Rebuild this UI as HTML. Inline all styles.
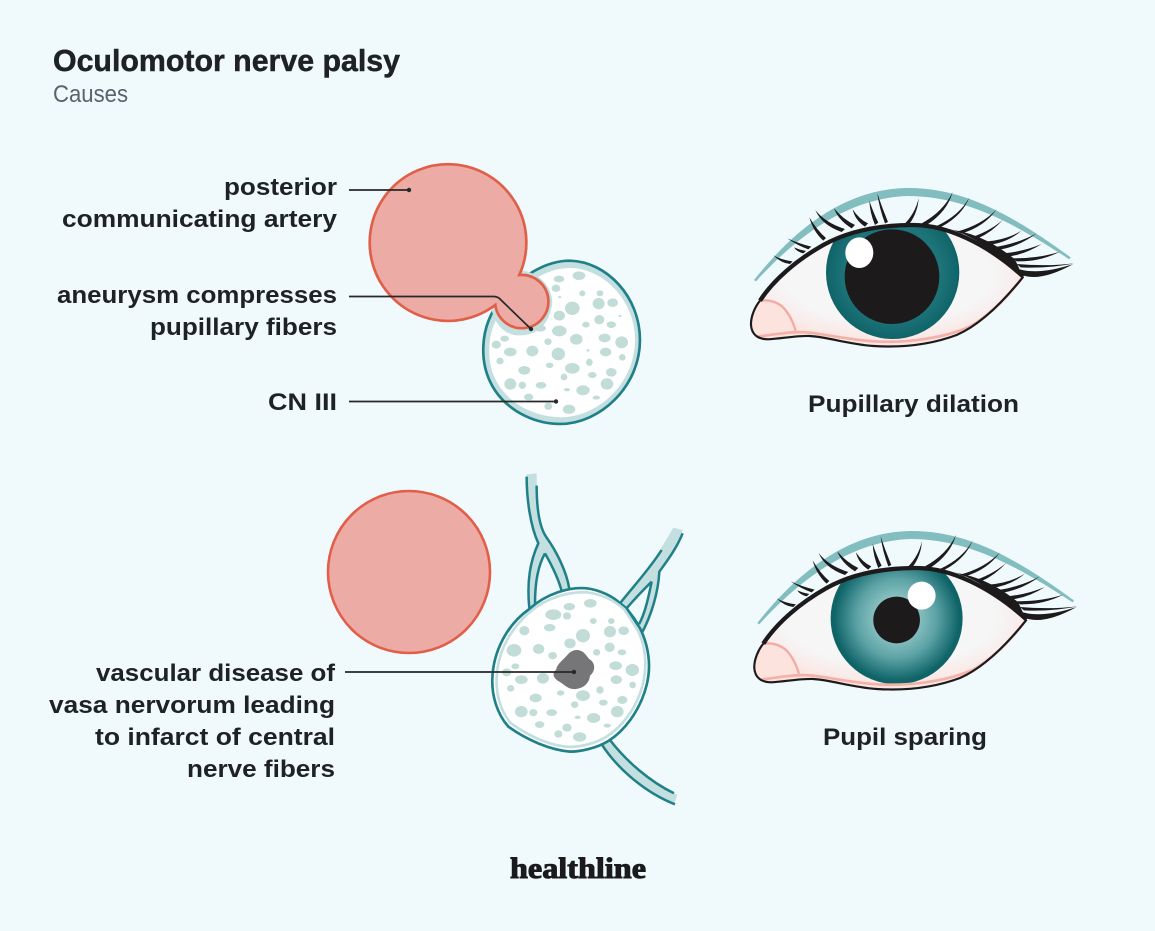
<!DOCTYPE html>
<html><head><meta charset="utf-8"><style>
html,body{margin:0;padding:0;background:#f0f9fc}
svg{display:block}
.l{font:bold 24px "Liberation Sans",sans-serif;fill:#1f2224}
.t{font:bold 31px "Liberation Sans",sans-serif;fill:#1f2224;stroke:#1f2224;stroke-width:.5}
.s{font:24px "Liberation Sans",sans-serif;fill:#59636a}
.h{font:bold 30px "Liberation Serif",serif;fill:#1b1b1d;stroke:#1b1b1d;stroke-width:1}
.ln{fill:none;stroke:#26282a;stroke-width:1.7}
.sp{fill:#c2dcd8}
</style></head><body>
<svg width="1155" height="931" viewBox="0 0 1155 931" xmlns="http://www.w3.org/2000/svg">
<defs>
<clipPath id="ec"><path d="M35,450C60,390 130,320 190,270C280,200 400,165 500,165C640,165 760,230 850,320C800,390 740,450 680,480C600,520 500,530 400,525C330,520 280,500 200,498C150,498 100,510 70,508C40,505 30,480 35,450Z"/></clipPath>
<radialGradient id="ir1"><stop offset="0.72" stop-color="#1d7479"/><stop offset="1" stop-color="#0f6468"/></radialGradient>
<radialGradient id="ir2"><stop offset="0.3" stop-color="#8dc3c4"/><stop offset="0.6" stop-color="#5da3a6"/><stop offset="0.95" stop-color="#0f6468"/></radialGradient>
<radialGradient id="wh" cx="0.5" cy="0.42" r="0.62"><stop offset="0.62" stop-color="#f6f6f7"/><stop offset="1" stop-color="#fddfda"/></radialGradient>
<g id="eyebase">
<path d="M42,330C150,195 300,58 500,54C680,52 830,145 992,262L988,268C830,165 680,78 500,78C320,85 170,200 48,334Z" fill="#82bdc0"/>
<path d="M35,450C60,390 130,320 190,270C280,200 400,165 500,165C640,165 760,230 850,320C800,390 740,450 680,480C600,520 500,530 400,525C330,520 280,500 200,498C150,498 100,510 70,508C40,505 30,480 35,450Z" fill="url(#wh)"/>
<path d="M60,392C100,390 140,410 165,482C130,495 90,506 70,506C40,505 30,480 35,450C38,430 48,410 60,392Z" fill="#fde3de"/>
</g>
<g id="eyetop" >
<path d="M60,392C85,388 120,395 140,425C155,445 162,465 167,482" fill="none" stroke="#f2aba3" stroke-width="7"/>
<path d="M50,500C100,495 150,482 210,488C270,495 320,508 400,514C500,520 610,505 690,470C750,435 800,385 845,325" fill="none" stroke="#f4b1a8" stroke-width="8"/>
<path d="M600,172C680,182 770,215 830,290L800,262C750,215 680,190 600,172Z" fill="#c9cdce"/>
<path d="M60,392C100,330 170,270 250,225C340,175 440,165 520,165C620,165 740,220 850,320" fill="none" stroke="#1d1a1c" stroke-width="13"/>
<path d="M60,392C45,410 32,440 33,465C35,495 55,508 85,508C130,505 170,497 210,498C270,502 320,522 400,528C480,533 570,525 650,495C720,465 790,395 850,320" fill="none" stroke="#1d1a1c" stroke-width="6.500"/>
<path d="M640,180C700,200 780,250 850,322L825,268C760,215 700,190 640,180Z" fill="#1d1a1c"/>
<g fill="#1d1a1c">
<path d="M150,282Q125,280 100,256Q125,270 158,274Z"/>
<path d="M190,250Q170,245 162,232Q180,240 198,243Z"/>
<path d="M205,238Q170,225 142,205Q175,220 214,230Z"/>
<path d="M250,212Q220,185 208,142Q232,182 258,204Z"/>
<path d="M305,186Q245,165 226,120Q255,158 315,177Z"/>
<path d="M335,175Q295,150 282,115Q310,148 345,165Z"/>
<path d="M375,170Q345,150 338,118Q358,148 384,160Z"/>
<path d="M405,165Q390,130 388,92Q400,128 415,158Z"/>
<path d="M435,160Q418,115 412,70Q426,112 444,156Z"/>
<path d="M495,160Q525,130 536,85Q533,128 508,162Z"/>
<path d="M545,160Q610,125 638,66Q622,125 560,165Z"/>
<path d="M590,168Q660,135 688,82Q668,135 605,170Z"/>
<path d="M650,185Q725,165 770,118Q733,170 665,190Z"/>
<path d="M700,200Q755,180 790,148Q758,185 712,206Z"/>
<path d="M735,215Q800,210 845,182Q803,218 745,225Z"/>
<path d="M760,232Q830,222 890,190Q833,232 772,240Z"/>
<path d="M790,250Q850,245 905,222Q853,255 800,260Z"/>
<path d="M820,265Q900,265 960,245Q900,276 830,274Z"/>
<path d="M830,282Q920,290 1003,280Q925,296 842,292Z"/>
<path d="M840,298Q900,315 1000,282Q910,332 855,318Q840,312 835,305Z"/>
</g>
</g>
</defs>
<rect width="1155" height="931" fill="#f0f9fc"/>

<text class="t" x="53" y="71" textLength="347" lengthAdjust="spacingAndGlyphs">Oculomotor nerve palsy</text>
<text class="s" x="53" y="102" textLength="75" lengthAdjust="spacingAndGlyphs">Causes</text>

<!-- top nerve -->
<g transform="translate(340,150) scale(.3333)">
<path d="M690,332C800,335 900,440 900,570C900,710 780,822 660,822C590,822 520,790 475,735C440,690 428,640 430,590C432,530 455,480 490,440C540,385 610,332 690,332Z" fill="#c3dfe0"/>
<path d="M690,354C790,355 885,450 885,570C885,700 775,800 665,802C600,802 530,775 488,722C455,680 446,640 448,590C450,540 470,495 505,455C550,405 615,354 690,354Z" fill="#fff"/>
<path d="M690,332C800,335 900,440 900,570C900,710 780,822 660,822C590,822 520,790 475,735C440,690 428,640 430,590C432,530 455,480 490,440C540,385 610,332 690,332Z" fill="none" stroke="#1f8088" stroke-width="8"/>
<path d="M540,362C610,365 645,430 635,470C625,525 590,560 530,556C490,552 465,520 455,480Z" fill="#c3dfe0"/>
<g class="sp">
<ellipse cx="657" cy="387" rx="16" ry="10"/><ellipse cx="717" cy="377" rx="19" ry="13"/><ellipse cx="648" cy="415" rx="13" ry="11"/><ellipse cx="727" cy="430" rx="9" ry="9"/><ellipse cx="780" cy="430" rx="10" ry="9"/><ellipse cx="776" cy="461" rx="18" ry="17"/><ellipse cx="818" cy="458" rx="16" ry="13"/><ellipse cx="697" cy="475" rx="22" ry="20"/><ellipse cx="658" cy="497" rx="17" ry="15"/><ellipse cx="778" cy="509" rx="15" ry="14"/><ellipse cx="738" cy="524" rx="11" ry="9"/><ellipse cx="814" cy="524" rx="14" ry="10"/><ellipse cx="658" cy="543" rx="22" ry="16"/><ellipse cx="602" cy="535" rx="16" ry="10"/><ellipse cx="709" cy="568" rx="19" ry="16"/><ellipse cx="794" cy="564" rx="18" ry="13"/><ellipse cx="845" cy="577" rx="19" ry="18"/><ellipse cx="624" cy="575" rx="11" ry="10"/><ellipse cx="494" cy="566" rx="13" ry="9"/><ellipse cx="469" cy="584" rx="14" ry="12"/><ellipse cx="511" cy="606" rx="19" ry="13"/><ellipse cx="577" cy="603" rx="18" ry="16"/><ellipse cx="655" cy="612" rx="20" ry="19"/><ellipse cx="797" cy="606" rx="17" ry="13"/><ellipse cx="847" cy="622" rx="10" ry="10"/><ellipse cx="480" cy="633" rx="11" ry="10"/><ellipse cx="748" cy="637" rx="10" ry="11"/><ellipse cx="629" cy="646" rx="11" ry="8"/><ellipse cx="553" cy="661" rx="18" ry="13"/><ellipse cx="697" cy="655" rx="22" ry="16"/><ellipse cx="814" cy="667" rx="16" ry="13"/><ellipse cx="757" cy="675" rx="13" ry="9"/><ellipse cx="672" cy="681" rx="10" ry="10"/><ellipse cx="511" cy="702" rx="18" ry="17"/><ellipse cx="547" cy="706" rx="11" ry="11"/><ellipse cx="603" cy="706" rx="16" ry="10"/><ellipse cx="801" cy="702" rx="19" ry="17"/><ellipse cx="729" cy="721" rx="20" ry="15"/><ellipse cx="681" cy="719" rx="9" ry="5"/><ellipse cx="769" cy="743" rx="11" ry="6"/><ellipse cx="566" cy="741" rx="14" ry="10"/><ellipse cx="625" cy="769" rx="12" ry="11"/><ellipse cx="687" cy="778" rx="19" ry="14"/><ellipse cx="659" cy="441" rx="5" ry="3"/><ellipse cx="840" cy="498" rx="5" ry="3"/><ellipse cx="744" cy="601" rx="4" ry="4"/>
</g>
<path d="M538,375A80,80 0 1 1 466,465A235,235 0 1 1 538,375Z" fill="#ecaba5" stroke="#e15f48" stroke-width="8" stroke-linejoin="miter"/>
</g>

<!-- bottom artery -->
<circle cx="409" cy="572" r="81" fill="#ecaba5" stroke="#e15f48" stroke-width="2.600"/>

<!-- bottom nerve -->
<g transform="translate(470,465) scale(.3333)">
<g fill="#c3dfe0">
<path d="M170,28L200,25C200,100 210,180 228,215C260,260 290,320 298,372L275,378C265,330 245,290 225,265C205,295 195,350 195,415L178,430C170,350 180,290 205,235C185,190 170,100 170,28Z"/>
<path d="M610,188L638,195C620,250 590,290 568,320C565,380 545,450 515,505L505,480L470,430L450,415C490,370 540,310 610,188Z"/>
<path d="M395,838L420,825C470,890 540,950 622,990L612,1018C530,985 445,915 395,838Z"/>
</g>
<path d="M225,265C245,300 265,340 275,378L195,415C195,350 205,295 225,265Z" fill="#f0f9fc"/>
<path d="M545,350C540,400 525,445 507,478L470,430C495,400 525,375 545,350Z" fill="#f0f9fc"/>
<g fill="none" stroke="#1f8088" stroke-width="7.500">
<path d="M170,35C170,100 180,180 205,235C180,290 170,350 178,430"/>
<path d="M200,62C200,120 205,180 228,215C260,260 290,320 298,372"/>
<path d="M225,265C205,300 195,350 195,415"/>
<path d="M225,265C245,300 265,340 275,378"/>
<path d="M575,255C540,310 490,365 450,415"/>
<path d="M638,205C620,250 590,290 568,320C565,380 545,450 515,505"/>
<path d="M545,350C535,400 525,445 507,478"/>
<path d="M545,350C520,375 495,400 470,430C480,445 495,460 505,480"/>
<path d="M395,838C445,915 530,985 615,1018"/>
<path d="M420,825C470,890 540,950 612,985"/>
</g>
<path d="M178,432C230,385 300,365 350,370C390,375 430,395 450,415L470,430L510,490C535,540 545,600 530,660C510,740 460,800 415,828C380,850 330,860 300,860C240,855 170,825 115,785C80,745 65,690 67,640C70,560 110,480 178,432Z" fill="#fff" stroke="#1f8088" stroke-width="8"/>
<path d="M178,442C235,394 300,380 350,382C392,387 430,404 462,432L503,495C526,540 533,600 518,660C498,735 453,788 408,816C375,836 330,846 300,846C240,843 177,813 124,776C92,740 78,690 80,640C82,560 122,492 178,442Z" fill="none" stroke="#c3dfe0" stroke-width="8"/>
<g class="sp">
<ellipse cx="298" cy="425" rx="17" ry="11"/><ellipse cx="361" cy="415" rx="19" ry="13"/><ellipse cx="250" cy="449" rx="24" ry="16"/><ellipse cx="291" cy="453" rx="12" ry="11"/><ellipse cx="370" cy="468" rx="10" ry="9"/><ellipse cx="424" cy="468" rx="10" ry="9"/><ellipse cx="420" cy="500" rx="18" ry="17"/><ellipse cx="461" cy="497" rx="16" ry="13"/><ellipse cx="163" cy="497" rx="15" ry="14"/><ellipse cx="239" cy="488" rx="17" ry="11"/><ellipse cx="339" cy="512" rx="21" ry="20"/><ellipse cx="300" cy="535" rx="17" ry="15"/><ellipse cx="419" cy="547" rx="15" ry="14"/><ellipse cx="456" cy="562" rx="13" ry="9"/><ellipse cx="132" cy="556" rx="22" ry="19"/><ellipse cx="206" cy="552" rx="17" ry="15"/><ellipse cx="248" cy="572" rx="13" ry="11"/><ellipse cx="380" cy="562" rx="11" ry="10"/><ellipse cx="437" cy="602" rx="19" ry="13"/><ellipse cx="487" cy="615" rx="20" ry="18"/><ellipse cx="136" cy="604" rx="12" ry="9"/><ellipse cx="110" cy="622" rx="14" ry="12"/><ellipse cx="154" cy="644" rx="19" ry="13"/><ellipse cx="219" cy="640" rx="18" ry="16"/><ellipse cx="439" cy="644" rx="17" ry="13"/><ellipse cx="488" cy="660" rx="10" ry="10"/><ellipse cx="122" cy="670" rx="11" ry="10"/><ellipse cx="390" cy="675" rx="11" ry="11"/><ellipse cx="272" cy="684" rx="11" ry="8"/><ellipse cx="197" cy="699" rx="18" ry="13"/><ellipse cx="339" cy="692" rx="21" ry="16"/><ellipse cx="457" cy="705" rx="15" ry="12"/><ellipse cx="400" cy="713" rx="13" ry="9"/><ellipse cx="314" cy="719" rx="11" ry="10"/><ellipse cx="154" cy="740" rx="19" ry="17"/><ellipse cx="190" cy="743" rx="12" ry="11"/><ellipse cx="245" cy="743" rx="16" ry="10"/><ellipse cx="442" cy="740" rx="19" ry="17"/><ellipse cx="371" cy="759" rx="20" ry="15"/><ellipse cx="323" cy="757" rx="9" ry="5"/><ellipse cx="412" cy="782" rx="11" ry="6"/><ellipse cx="209" cy="779" rx="14" ry="10"/><ellipse cx="291" cy="788" rx="14" ry="12"/><ellipse cx="265" cy="807" rx="12" ry="11"/><ellipse cx="329" cy="816" rx="20" ry="14"/>
</g>
<path d="M320,555C345,555 350,578 362,585C378,598 375,620 360,632C358,655 340,670 318,672C295,675 285,660 268,650C250,640 245,625 258,615C262,595 280,585 292,570C300,560 310,555 320,555Z" fill="#767678"/>
</g>

<!-- leader lines -->
<path class="ln" d="M349,190H409"/><circle cx="409" cy="190" r="2.200" fill="#26282a"/>
<path class="ln" d="M349,296.500H494Q498,296.500 501,300L531,329"/><circle cx="531" cy="329" r="2.200" fill="#26282a"/>
<path class="ln" d="M349,401.500H556"/><circle cx="556" cy="401.500" r="2.200" fill="#26282a"/>
<path class="ln" d="M345,672H574"/><circle cx="574" cy="672" r="2.200" fill="#26282a"/>

<!-- labels -->
<text class="l" x="224" y="195" textLength="113" lengthAdjust="spacingAndGlyphs">posterior</text>
<text class="l" x="62" y="227" textLength="275" lengthAdjust="spacingAndGlyphs">communicating artery</text>
<text class="l" x="57" y="303" textLength="280" lengthAdjust="spacingAndGlyphs">aneurysm compresses</text>
<text class="l" x="150" y="335" textLength="187" lengthAdjust="spacingAndGlyphs">pupillary fibers</text>
<text class="l" x="268" y="410" textLength="69" lengthAdjust="spacingAndGlyphs">CN III</text>
<text class="l" x="96" y="681" textLength="239" lengthAdjust="spacingAndGlyphs">vascular disease of</text>
<text class="l" x="49" y="713" textLength="286" lengthAdjust="spacingAndGlyphs">vasa nervorum leading</text>
<text class="l" x="95" y="745" textLength="240" lengthAdjust="spacingAndGlyphs">to infarct of central</text>
<text class="l" x="187" y="777" textLength="148" lengthAdjust="spacingAndGlyphs">nerve fibers</text>
<text class="l" x="808" y="412" textLength="211" lengthAdjust="spacingAndGlyphs">Pupillary dilation</text>
<text class="l" x="823" y="745" textLength="164" lengthAdjust="spacingAndGlyphs">Pupil sparing</text>
<text class="h" x="510" y="878" textLength="136" lengthAdjust="spacingAndGlyphs">healthline</text>

<!-- eye 1 -->
<g transform="translate(740,170) scale(.3333)">
<use href="#eyebase"/>
<g clip-path="url(#ec)">
<circle cx="458" cy="307" r="200" fill="url(#ir1)"/>
<circle cx="456" cy="320" r="142" fill="#1d1a1c"/>
<ellipse cx="358" cy="248" rx="42" ry="46" fill="#fff"/>
</g>
<use href="#eyetop"/>
</g>

<!-- eye 2 -->
<g transform="translate(743.300,513) scale(.3333)">
<use href="#eyebase"/>
<g clip-path="url(#ec)">
<circle cx="460" cy="316" r="198" fill="url(#ir2)"/>
<circle cx="460" cy="321" r="70" fill="#1d1a1c"/>
<circle cx="535" cy="248" r="42" fill="#fff"/>
</g>
<use href="#eyetop"/>
</g>
</svg>
</body></html>
